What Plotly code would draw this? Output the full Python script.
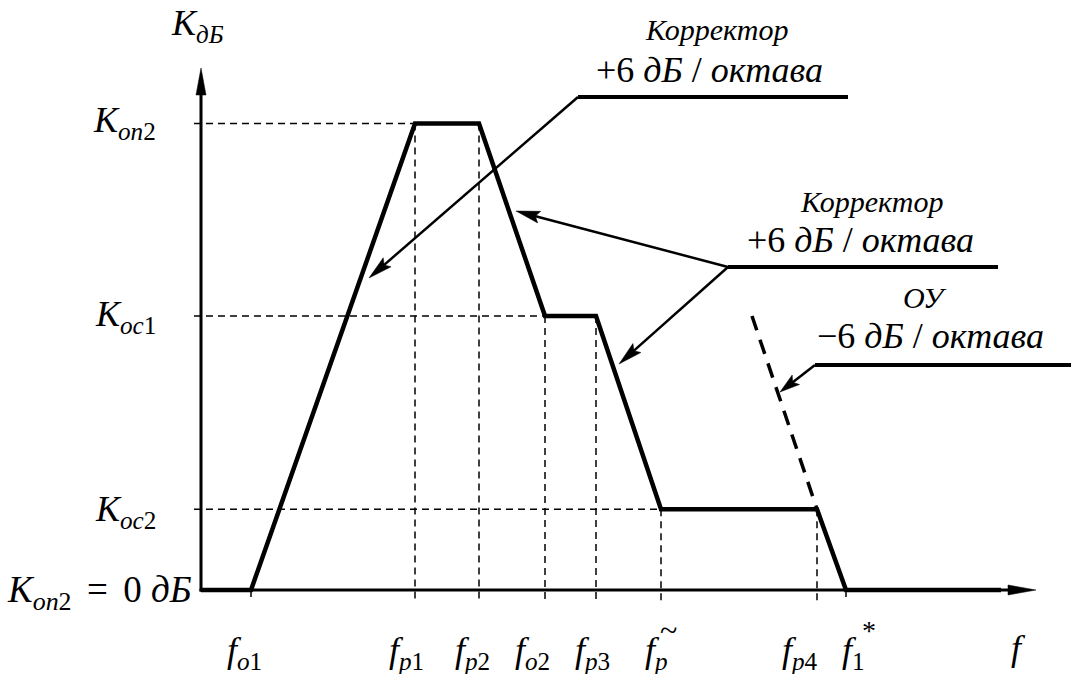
import numpy as np
import plotly.graph_objects as go

W, H = 1071, 674
# where the origin sits on the page and how many pixels one unit spans
OX, OY = 201, 590
SX, SY = 10.0, 8.0

FONT = "Liberation Serif"

# break frequencies along the f axis (relative units)
freq_labels = [
    "<i>f</i><sub><i>о</i>1</sub>",
    "<i>f</i><sub><i>р</i>1</sub>",
    "<i>f</i><sub><i>р</i>2</sub>",
    "<i>f</i><sub><i>о</i>2</sub>",
    "<i>f</i><sub><i>р</i>3</sub>",
    "<i>f</i><sub><i>р</i></sub>",
    "<i>f</i><sub><i>р</i>4</sub>",
    "<i>f</i><sub>1</sub>",
]
freq_pos = [5.0, 21.4, 27.8, 34.4, 39.5, 46.0, 61.6, 64.5]

# gain levels, dB
level_labels = [
    "<i>K</i><sub><i>оп</i>2</sub>",
    "<i>K</i><sub><i>ос</i>1</sub>",
    "<i>K</i><sub><i>ос</i>2</sub>",
]
level_values = [58.3, 34.25, 10.1]
level_freq = [21.4, 34.4, 46.0]   # where each level guide meets the response

# piecewise-linear response of the corrected amplifier
response_f = [0.0, 5.0, 21.4, 27.8, 34.4, 39.5, 46.0, 61.6, 64.5, 80.0]
response_k = [0.0, 0.0, 58.3, 58.3, 34.25, 34.25, 10.1, 10.1, 0.0, 0.0]

# open-loop op-amp roll-off (-6 dB/octave)
ou_f = [55.1, 61.6]
ou_k = [34.25, 10.1]


def dx(px):
    return (px - OX) / SX


def dy(py):
    return (OY - py) / SY


fig = go.Figure()

# dashed guides from the level labels to the response
for k, f in zip(level_values, level_freq):
    fig.add_trace(go.Scatter(
        x=[dx(194), f], y=[k, k], mode="lines",
        line=dict(color="black", width=1.5, dash="7px,5px"), hoverinfo="skip"))

# dashed drops from the response down to the frequency axis
for f in freq_pos:
    k_top = float(np.interp(f, response_f, response_k))
    fig.add_trace(go.Scatter(
        x=[f, f], y=[k_top, dy(602)], mode="lines",
        line=dict(color="black", width=1.5, dash="7px,5px"), hoverinfo="skip"))

# op-amp roll-off
fig.add_trace(go.Scatter(
    x=ou_f, y=ou_k, mode="lines",
    line=dict(color="black", width=3.5, dash="15px,10px"), hoverinfo="skip"))

# response curve
fig.add_trace(go.Scatter(
    x=response_f, y=response_k, mode="lines",
    line=dict(color="black", width=4.5), hoverinfo="skip"))

shapes = []


def seg(x0, y0, x1, y1, w):
    shapes.append(dict(type="line", xref="x", yref="y",
                       x0=dx(x0), y0=dy(y0), x1=dx(x1), y1=dy(y1),
                       line=dict(color="black", width=w)))


def head(tip, tail, length, half_w, notch, line_w):
    tx, ty = tip
    vx, vy = tx - tail[0], ty - tail[1]
    n = (vx * vx + vy * vy) ** 0.5
    ux, uy = vx / n, vy / n
    px_, py_ = -uy, ux
    bx, by = tx - ux * length, ty - uy * length
    ix, iy = tx - ux * (length - notch), ty - uy * (length - notch)
    pts = [(tx, ty), (bx + px_ * half_w, by + py_ * half_w), (ix, iy),
           (bx - px_ * half_w, by - py_ * half_w)]
    path = "M " + " L ".join(f"{dx(a):.4f},{dy(b):.4f}" for a, b in pts) + " Z"
    shapes.append(dict(type="path", xref="x", yref="y", path=path,
                       fillcolor="black", line=dict(color="black", width=0.5)))
    # shaft stops inside the head
    sx, sy = tx - ux * (length * 0.6), ty - uy * (length * 0.6)
    seg(tail[0], tail[1], sx, sy, line_w)


# axes
head((OX, 68), (OX, OY + 1.5), 27, 5, 0, 3)
head((1036, OY), (OX - 1.5, OY), 28, 5, 0, 3)

# leader lines with arrows
seg(578, 97, 848, 97, 4)
head((369, 278), (578, 97), 24, 6, 4, 2.5)

seg(728, 267, 998, 267, 4)
head((516, 211), (728, 267), 24, 6, 4, 2.5)
head((619, 364), (728, 267), 24, 6, 4, 2.5)

seg(815, 365, 1071, 365, 4)
head((780, 392), (815, 365), 20, 6, 4, 2.5)

annotations = []


def text(s, x_px, y_px, size, xanchor="center"):
    annotations.append(dict(
        x=dx(x_px), y=dy(y_px), xref="x", yref="y", text=s, showarrow=False,
        xanchor=xanchor, yanchor="middle",
        font=dict(family=FONT, size=size, color="black")))


# frequency labels
freq_label_x = [244, 406, 472, 532, 592, 656, 800, 853]
for s, x in zip(freq_labels, freq_label_x):
    text(s, x, 652, 36)
text("~", 668, 630, 32)
text("*", 869, 630, 28)
text("<i>f</i>", 1018, 648, 36)

# level labels
level_label_y = [122, 316, 511]
for s, y in zip(level_labels, level_label_y):
    text(s, y_px=y, x_px=158, size=36, xanchor="right")
text("<i>K</i><sub><i>оп</i>2</sub> \u2006=\u2006 0 <i>дБ</i>", 194, 592, 37, xanchor="right")
text("<i>K</i><sub><i>дБ</i></sub>", 197, 25, 36)

# leader captions
text("<i>Корректор</i>", 716, 29, 30)
text("+6 <i>дБ</i> / <i>октава</i>", 709, 70, 36)
text("<i>Корректор</i>", 871, 201, 30)
text("+6 <i>дБ</i> / <i>октава</i>", 860, 240, 36)
text("<i>ОУ</i>", 925, 297, 30)
text("−6 <i>дБ</i> / <i>октава</i>", 930, 336, 36)

fig.update_layout(
    width=W, height=H, margin=dict(l=0, r=0, t=0, b=0),
    paper_bgcolor="white", plot_bgcolor="white", showlegend=False,
    shapes=shapes, annotations=annotations,
    xaxis=dict(range=[dx(0), dx(W)], visible=False, fixedrange=True),
    yaxis=dict(range=[dy(H), dy(0)], visible=False, fixedrange=True),
)

fig.write_html("out.html", config=dict(displayModeBar=False))
